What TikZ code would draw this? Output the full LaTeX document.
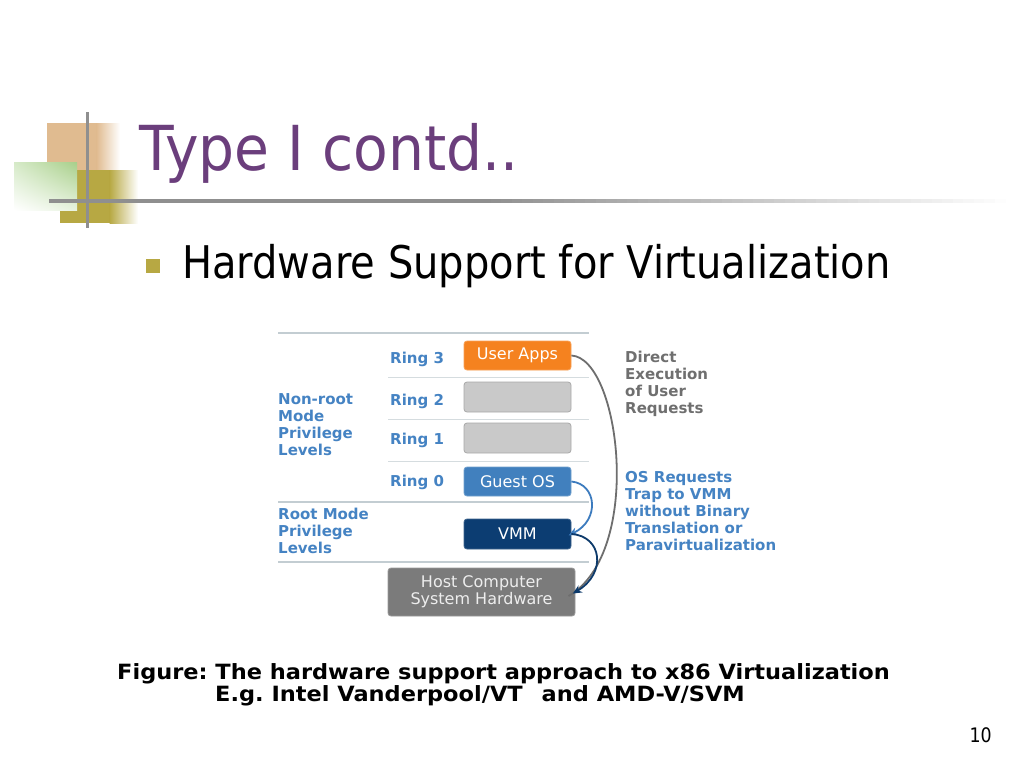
\documentclass[tikz,border=0pt]{standalone}
\usepackage{fontspec}
\setmainfont{DejaVu Sans}
\newfontfamily\titlefont[FakeStretch=0.915]{DejaVu Sans}
\newfontfamily\subfont[FakeStretch=0.889]{DejaVu Sans}
\newfontfamily\tahfont[FakeStretch=0.87]{DejaVu Sans}
\newfontfamily\capfont[FakeStretch=1.07]{DejaVu Sans}
\usetikzlibrary{arrows.meta,shadings}
\definecolor{titlepurple}{HTML}{6B3E7C}
\definecolor{tanc}{HTML}{E0BB90}
\definecolor{olivec}{HTML}{B7A843}
\definecolor{greenc}{HTML}{A8CF8A}
\definecolor{greenl}{HTML}{D6EAC8}
\definecolor{gray8}{HTML}{8F8F8F}
\definecolor{ringblue}{HTML}{4583C3}
\definecolor{graytext}{HTML}{6F6F6F}
\definecolor{orangeb}{HTML}{F5821F}
\definecolor{grayb}{HTML}{C9C9C9}
\definecolor{grayborder}{HTML}{A9A9A9}
\definecolor{guestb}{HTML}{4180BE}
\definecolor{vmmb}{HTML}{0C3D72}
\definecolor{hostb}{HTML}{7B7B7B}
\definecolor{hostborder}{HTML}{9A9A9A}
\definecolor{hosttext}{HTML}{EDEDED}
\definecolor{sepline}{HTML}{C3CDD2}
\definecolor{arrowgray}{HTML}{6E6E6E}
\definecolor{arrowblue}{HTML}{3C7BBE}
\definecolor{arrownavy}{HTML}{0D3A6B}
\tikzset{
  ringbox/.style={draw, rounded corners=3pt, minimum width=107pt, minimum height=29pt,
    inner sep=0pt, line width=0.8pt, font=\fontsize{16}{17}\selectfont, text=white},
  lbl/.style={inner sep=0pt, font=\bfseries\fontsize{15}{17}\selectfont, align=left},
  sepfull/.style={draw=sepline, line width=2pt},
  septhin/.style={draw=sepline!70!white, line width=1pt},
  flow/.style={line width=1.8pt, -{Stealth[length=9pt,width=8pt]}, shorten >=-3pt},
  captext/.style={anchor=base west, inner sep=0pt, font=\capfont\bfseries\fontsize{21}{25}\selectfont},
}
\frenchspacing
\begin{document}
\begin{tikzpicture}[x=1pt,y=-1pt]
\useasboundingbox[fill=white] (0,0) rectangle (1024,768);
% decoration
\fill[tanc] (47,123) rectangle (97,172);
\shade[left color=tanc, right color=white] (96.5,123) rectangle (120,172);
\fill[olivec] (60,170) rectangle (110,223);
\shade[left color=olivec, right color=white] (109.5,170) rectangle (138,223);
\shade[upper left=greenl, upper right=greenc, lower left=white, lower right=greenl!60!white] (14,162) rectangle (77,210);
\fill[gray8] (49,198.5) rectangle (480.5,203);
\foreach \i in {0,...,49} {
  \pgfmathsetmacro{\pct}{100-2*\i}
  \fill[gray8!\pct!white] (480+10.5*\i,198.5) rectangle (491+10.5*\i,203);
}
\draw[gray8, line width=3pt] (87,112) -- (87,228);
% title
\node[anchor=base west, inner sep=0pt, text=titlepurple, font=\titlefont\fontsize{62}{70}\selectfont] (title) at (139,170) {Type I contd..};
\node[fill=olivec, minimum width=14pt, minimum height=14pt, inner sep=0pt] (bullet) at (153,266) {};
\node[anchor=base west, inner sep=0pt, font=\subfont\fontsize{45}{50}\selectfont] (sub) at (182,278) {Hardware Support for Virtualization};
% separator lines
\draw[sepfull] (278,333) -- (589,333);
\draw[septhin] (388,377) -- (589,377);
\draw[septhin] (388,419) -- (589,419);
\draw[septhin] (388,461) -- (589,461);
\draw[sepfull] (278,502) -- (589,502);
\draw[sepfull] (278,562) -- (589,562);
% boxes
\node[ringbox, fill=orangeb, draw=orangeb!75!white] (ua) at (517.5,355.5) {User Apps};
\node[ringbox, fill=grayb, draw=grayborder, minimum height=30pt] (r2) at (517.5,397) {};
\node[ringbox, fill=grayb, draw=grayborder, minimum height=30pt] (r1) at (517.5,438) {};
\node[ringbox, fill=guestb, draw=guestb!75!white] (go) at (517.5,481.5) {Guest OS};
\node[ringbox, fill=vmmb, draw=vmmb!80!white, minimum height=30pt] (vmm) at (517.5,534) {VMM};
\node[ringbox, fill=hostb, draw=hostborder, minimum width=187pt, minimum height=48pt, align=center, text=hosttext] (host) at (481.5,592) {Host Computer\\System Hardware};
% ring labels
\node[lbl, text=ringblue, anchor=base west] (l3) at (390,363) {Ring 3};
\node[lbl, text=ringblue, anchor=base west] (l2) at (390,405) {Ring 2};
\node[lbl, text=ringblue, anchor=base west] (l1) at (390,444) {Ring 1};
\node[lbl, text=ringblue, anchor=base west] (l0) at (390,486) {Ring 0};
\node[lbl, text=ringblue, anchor=north west] (nonroot) at (278,393) {Non-root\\Mode\\Privilege\\Levels};
\node[lbl, text=ringblue, anchor=north west] (root) at (278,507.5) {Root Mode\\Privilege\\Levels};
\node[lbl, text=graytext, anchor=north west] (direct) at (625,351) {Direct\\Execution\\of User\\Requests};
\node[lbl, text=ringblue, anchor=north west] (trap) at (625,471.5) {OS Requests\\Trap to VMM\\without Binary\\Translation or\\Paravirtualization};
% arrows
\draw[arrowgray, line width=1.8pt, shorten >=-8pt] (ua.east) .. controls (620,358) and (644,552) .. (host.east);
\draw[flow, arrowblue] (go.east) .. controls (597,484) and (600,520) .. (vmm.east);
\draw[flow, arrownavy] (vmm.east) .. controls (602,536) and (607,573) .. (host.east);
% caption
\node[captext] (cap1) at (117,679) {Figure: The hardware support approach to x86 Virtualization};
\node[captext] (cap2) at (215,701) {E.g. Intel Vanderpool/VT\hspace{19pt}and AMD-V/SVM};
\node[anchor=base east, inner sep=0pt, font=\tahfont\fontsize{20}{22}\selectfont] (pnum) at (992,742) {10};
\end{tikzpicture}
\end{document}
